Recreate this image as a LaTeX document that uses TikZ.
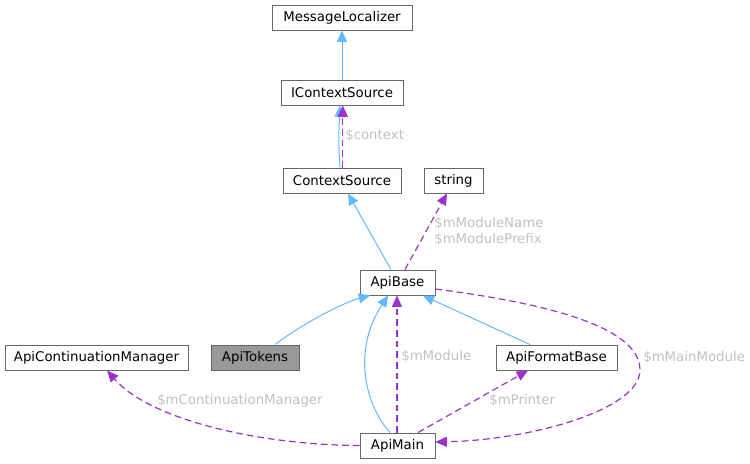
\documentclass[tikz,border=0pt]{standalone}
\usepackage{fontspec}
\setmainfont{DejaVu Sans}
\usetikzlibrary{positioning}
\usetikzlibrary{arrows.meta}

\definecolor{inheritblue}{HTML}{63B8FF}
\definecolor{usagepurple}{HTML}{9A32CD}
\definecolor{boxborder}{HTML}{666666}
\definecolor{boxcurrent}{HTML}{999999}
\definecolor{labelgrey}{HTML}{C0C0C0}

\tikzset{
	classbox/.style = {draw = boxborder, fill = white, line width = 0.75pt, minimum height = 18.75pt, inner xsep = 2pt, inner ysep = 0pt, font = \fontsize{10}{12}\selectfont},
	currentbox/.style = {classbox, fill = boxcurrent},
	inherit/.style = {draw = inheritblue, line width = 0.75pt, -{Triangle[length = 8.5pt, width = 7.5pt]}},
	usage/.style = {draw = usagepurple, line width = 0.9pt, dash pattern = on 5pt off 3pt, -{Triangle[length = 8.5pt, width = 7.5pt, fill = usagepurple]}},
	edgelabel/.style = {text = labelgrey, font = \fontsize{10}{12}\selectfont, inner sep = 0pt, anchor = west}
}

\begin{document}
\begin{tikzpicture}[x = 0.75pt, y = -0.75pt]
						\useasboundingbox (0, 0) rectangle (750, 464);
						% classes
						\node[classbox, minimum width = 105pt] (localizer) at (342, 17.5) {MessageLocalizer};
						\node[classbox, minimum width = 91.5pt] (icontext) at (342, 92.5) {IContextSource};
						\node[classbox, minimum width = 88.5pt] (context) at (342, 180.5) {ContextSource};
						\node[classbox, minimum width = 44.25pt] (string) at (453.5, 180.5) {string};
						\node[classbox, minimum width = 56.25pt] (base) at (397.5, 282.5) {ApiBase};
						\node[classbox, minimum width = 137.25pt] (continuation) at (96.5, 357.5) {ApiContinuationManager};
						\node[currentbox, minimum width = 66pt] (tokens) at (255, 357.5) {ApiTokens};
						\node[classbox, minimum width = 90.75pt] (format) at (556.5, 357.5) {ApiFormatBase};
						\node[classbox, minimum width = 56.25pt] (main) at (397.5, 445.5) {ApiMain};
						% inheritance
						\draw[inherit] (icontext.north)--(localizer.south);
						\draw[inherit] ([xshift = -1.5pt]context.north) .. controls (338.5, 140) .. ([xshift = -1.5pt]icontext.south);
						\draw[inherit] ([xshift = -4.9pt]base.north)--([xshift = 4.5pt]context.south);
						\draw[inherit] ([xshift = 15pt]tokens.north) .. controls (305, 322) and (345, 302) .. ([xshift = -20.6pt]base.south);
						\draw[inherit] ([xshift = -5.6pt]main.north) .. controls (365, 405) and (352, 350) .. ([xshift = -7pt]base.south);
						\draw[inherit] ([xshift = -19.9pt]format.north)--([xshift = 19pt]base.south);
						% members
						\draw[usage] ([xshift = 0.6pt]context.north)--([xshift = 0.6pt]icontext.south);
						\draw[usage] ([xshift = 5.6pt]base.north)--([xshift = -4.9pt]string.south);
						\draw[usage] ([xshift = -0.4pt]main.north)--([xshift = -0.4pt]base.south);
						\draw[usage] ([xshift = 15.4pt]main.north)--([xshift = -21.4pt]format.south);
						\draw[usage] (main.west) .. controls (260, 445) and (150, 420) .. ([xshift = 8pt]continuation.south);
						\draw[usage] ([yshift = -4.9pt]base.east) .. controls (560, 305) and (640, 330) .. (640, 370) .. controls (640, 410) and (530, 440) .. ([yshift = 2.6pt]main.east);
						% member names
						\node at (345, 135) [edgelabel] {\$context};
						\node at (434, 231) [edgelabel, align = left] {\$mModuleName\\\$mModulePrefix};
						\node at (401, 356) [edgelabel] {\$mModule};
						\node at (489, 400) [edgelabel] {\$mPrinter};
						\node at (157, 400.5) [edgelabel] {\$mContinuationManager};
						\node at (643, 357) [edgelabel] {\$mMainModule};
					\end{tikzpicture}
\end{document}
